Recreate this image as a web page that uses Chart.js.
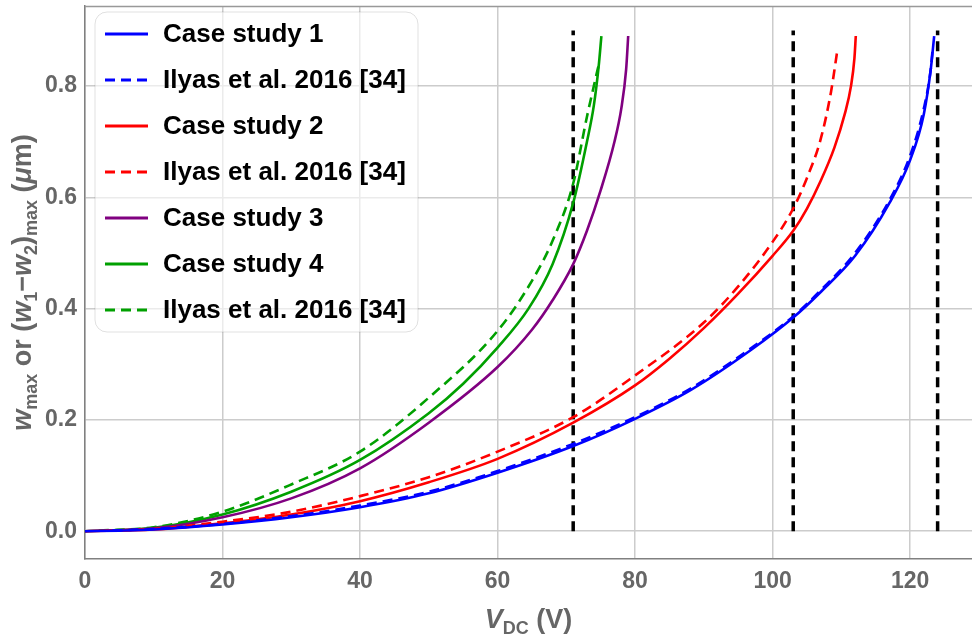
<!DOCTYPE html>
<html lang="en">
<head>
    <meta charset="UTF-8">
    <title>Pull-in curves</title>
    <script src="https://cdn.jsdelivr.net/npm/chart.js@4.4.1/dist/chart.umd.min.js"></script>
    <style>
        html, body { margin: 0; padding: 0; background: #fff; }
        canvas { display: block; }
    </style>
</head>
<body>
<canvas id="myChart" width="972" height="636"></canvas>

<script>
    // --- data ---
    var xTicks = [0, 20, 40, 60, 80, 100, 120];
    var yTicks = [0.0, 0.2, 0.4, 0.6, 0.8];

    var case1V = [0, 5, 10, 20, 30, 40, 50, 60, 71, 80, 88, 97, 103, 107, 112, 117, 120, 122, 123, 123.5];
    var case1W = [0, 0.001, 0.003, 0.012, 0.025, 0.043, 0.068, 0.105, 0.153, 0.202, 0.253, 0.327, 0.384, 0.43, 0.495, 0.59, 0.667, 0.75, 0.83, 0.89];

    var ilyas1V = [4, 10, 20, 30, 40, 50, 60, 71, 80, 88, 97, 103, 107, 112, 117, 120, 122, 123, 123.3];
    var ilyas1W = [0.001, 0.004, 0.013, 0.027, 0.046, 0.071, 0.108, 0.157, 0.205, 0.256, 0.33, 0.386, 0.433, 0.5, 0.595, 0.675, 0.76, 0.83, 0.87];

    var case2V = [0, 10, 20, 30, 40, 50, 60, 71, 80, 85, 90, 95, 100, 103, 105, 107, 109, 110.5, 111.4, 111.9, 112.1];
    var case2W = [0, 0.003, 0.014, 0.03, 0.054, 0.088, 0.13, 0.195, 0.262, 0.31, 0.365, 0.427, 0.495, 0.54, 0.58, 0.63, 0.69, 0.75, 0.80, 0.85, 0.89];

    var ilyas2V = [3, 10, 20, 30, 40, 50, 60, 71, 80, 90, 95, 100, 103, 105, 107, 108.5, 109.4];
    var ilyas2W = [0.001, 0.004, 0.017, 0.035, 0.063, 0.097, 0.143, 0.205, 0.28, 0.375, 0.44, 0.52, 0.58, 0.635, 0.705, 0.79, 0.863];

    var case3V = [0, 10, 20, 30, 40, 50, 60, 65, 68, 71, 73, 75, 77, 78, 78.7, 79];
    var case3W = [0, 0.005, 0.025, 0.059, 0.113, 0.195, 0.295, 0.362, 0.415, 0.48, 0.54, 0.613, 0.70, 0.76, 0.83, 0.89];

    var case4V = [0, 10, 20, 30, 40, 50, 55, 60, 64.5, 68, 71, 73, 74, 74.7, 75.1];
    var case4W = [0, 0.006, 0.03, 0.071, 0.128, 0.212, 0.265, 0.33, 0.40, 0.48, 0.59, 0.70, 0.765, 0.835, 0.89];

    var ilyas4V = [2, 10, 20, 30, 40, 50, 60, 65, 68, 71, 73, 74, 74.8];
    var ilyas4W = [0.001, 0.007, 0.035, 0.084, 0.143, 0.24, 0.36, 0.45, 0.522, 0.625, 0.745, 0.80, 0.843];

    var pullInV = [71, 103, 124];
    var pullInTop = 0.9;

    var FONT = '"Liberation Sans", Arial, sans-serif';
    var GREY = '#666666';

    function pts(xs, ys) {
        return xs.map(function (x, i) { return {x: x, y: ys[i]}; });
    }

    function curve(label, xs, ys, color, dashed) {
        return {
            label: label,
            data: pts(xs, ys),
            borderColor: color,
            backgroundColor: color,
            borderWidth: 2.6,
            borderDash: dashed ? [10, 6] : [],
            pointRadius: 0,
            fill: false,
            cubicInterpolationMode: 'monotone',
            inLegend: true
        };
    }

    var datasets = [
        curve('Case study 1', case1V, case1W, '#0000ff', false),
        curve('Ilyas et al. 2016 [34]', ilyas1V, ilyas1W, '#0000ff', true),
        curve('Case study 2', case2V, case2W, '#ff0000', false),
        curve('Ilyas et al. 2016 [34]', ilyas2V, ilyas2W, '#ff0000', true),
        curve('Case study 3', case3V, case3W, '#800080', false),
        curve('Case study 4', case4V, case4W, '#00a000', false),
        curve('Ilyas et al. 2016 [34]', ilyas4V, ilyas4W, '#00a000', true)
    ];
    pullInV.forEach(function (v) {
        datasets.push({
            label: 'pull-in ' + v,
            data: [{x: v, y: 0}, {x: v, y: pullInTop}],
            borderColor: '#000000',
            borderWidth: 3.5,
            borderDash: [10, 6],
            pointRadius: 0,
            fill: false,
            inLegend: false
        });
    });

    // draw a run of text pieces (for subscripts / italics)
    function richWidth(ctx, parts) {
        var w = 0;
        parts.forEach(function (p) { ctx.font = p.font; w += ctx.measureText(p.t).width; });
        return w;
    }
    function drawRich(ctx, parts, x, y) {
        parts.forEach(function (p) {
            ctx.font = p.font;
            ctx.fillText(p.t, x, y + (p.dy || 0));
            x += ctx.measureText(p.t).width;
        });
    }

    var big = 'bold 27px ' + FONT, bigI = 'italic bold 27px ' + FONT, sub = 'bold 18px ' + FONT;

    var decorPlugin = {
        id: 'decor',
        beforeDatasetsDraw: function (chart) {
            var ctx = chart.ctx, a = chart.chartArea;
            ctx.save();
            ctx.strokeStyle = '#999999';
            ctx.lineWidth = 1.5;
            ctx.beginPath();
            ctx.moveTo(a.left, a.top + 0.5);
            ctx.lineTo(a.right, a.top + 0.5);
            ctx.stroke();
            ctx.restore();
        },
        afterDraw: function (chart) {
            var ctx = chart.ctx, a = chart.chartArea;
            ctx.save();
            ctx.fillStyle = GREY;
            ctx.textBaseline = 'alphabetic';
            ctx.textAlign = 'left';

            // x title
            var xt = [
                {t: 'V', font: bigI},
                {t: 'DC', font: sub, dy: 6},
                {t: ' (V)', font: big}
            ];
            var w = richWidth(ctx, xt);
            drawRich(ctx, xt, (a.left + a.right) / 2 - w / 2, 628);

            // y title
            var yt = [
                {t: 'w', font: bigI},
                {t: 'max', font: sub, dy: 6},
                {t: ' or (', font: big},
                {t: 'w', font: bigI},
                {t: '1', font: sub, dy: 6},
                {t: '\u2212', font: big},
                {t: 'w', font: bigI},
                {t: '2', font: sub, dy: 6},
                {t: ')', font: big},
                {t: 'max', font: sub, dy: 6},
                {t: ' (', font: big},
                {t: '\u03bc', font: bigI},
                {t: 'm)', font: big}
            ];
            w = richWidth(ctx, yt);
            ctx.translate(31, (a.top + a.bottom) / 2);
            ctx.rotate(-Math.PI / 2);
            drawRich(ctx, yt, -w / 2, 0);
            ctx.restore();

            // legend
            ctx.save();
            var bx = 95, by = 12, bw = 323, bh = 320;
            ctx.beginPath();
            ctx.roundRect(bx, by, bw, bh, 12);
            ctx.fillStyle = 'rgba(255,255,255,0.6)';
            ctx.fill();
            ctx.strokeStyle = 'rgba(0,0,0,0.12)';
            ctx.lineWidth = 1;
            ctx.stroke();

            ctx.font = 'bold 26px ' + FONT;
            ctx.textBaseline = 'middle';
            ctx.fillStyle = '#000000';
            var row = 0;
            chart.data.datasets.forEach(function (ds) {
                if (!ds.inLegend) return;
                var yy = 34 + row * 46;
                ctx.beginPath();
                ctx.setLineDash(ds.borderDash);
                ctx.strokeStyle = ds.borderColor;
                ctx.lineWidth = 3;
                ctx.moveTo(105, yy);
                ctx.lineTo(148, yy);
                ctx.stroke();
                ctx.setLineDash([]);
                ctx.fillText(ds.label, 163, yy + 1);
                row++;
            });
            ctx.restore();
        }
    };

    var ctx = document.getElementById('myChart').getContext('2d');
    var myChart = new Chart(ctx, {
        type: 'line',
        data: {datasets: datasets},
        options: {
            responsive: false,
            animation: false,
            devicePixelRatio: 1,
            layout: {padding: {top: 6, right: 0, left: 0, bottom: 0}},
            plugins: {legend: {display: false}, tooltip: {enabled: false}},
            scales: {
                x: {
                    type: 'linear',
                    min: 0,
                    max: 129,
                    afterBuildTicks: function (scale) {
                        scale.ticks = xTicks.map(function (v) { return {value: v}; });
                    },
                    afterFit: function (scale) {
                        scale.height = 77;
                        scale.paddingLeft = 0;
                        scale.paddingRight = 0;
                    },
                    grid: {color: '#cccccc', lineWidth: 1.5, drawTicks: false},
                    border: {display: true, color: '#808080', width: 1.5},
                    ticks: {
                        font: {family: FONT, size: 23, weight: 'bold'},
                        color: GREY,
                        padding: 9,
                        maxRotation: 0,
                        callback: function (v) { return v; }
                    }
                },
                y: {
                    type: 'linear',
                    min: -0.05,
                    max: 0.944,
                    afterBuildTicks: function (scale) {
                        scale.ticks = yTicks.map(function (v) { return {value: v}; });
                    },
                    afterFit: function (scale) {
                        scale.width = 85;
                        scale.paddingTop = 0;
                        scale.paddingBottom = 0;
                    },
                    grid: {color: '#cccccc', lineWidth: 1.5, drawTicks: false},
                    border: {display: true, color: '#808080', width: 1.5},
                    ticks: {
                        font: {family: FONT, size: 23, weight: 'bold'},
                        color: GREY,
                        padding: 8,
                        callback: function (v) { return v.toFixed(1); }
                    }
                }
            }
        },
        plugins: [decorPlugin]
    });
</script>
</body>
</html>
